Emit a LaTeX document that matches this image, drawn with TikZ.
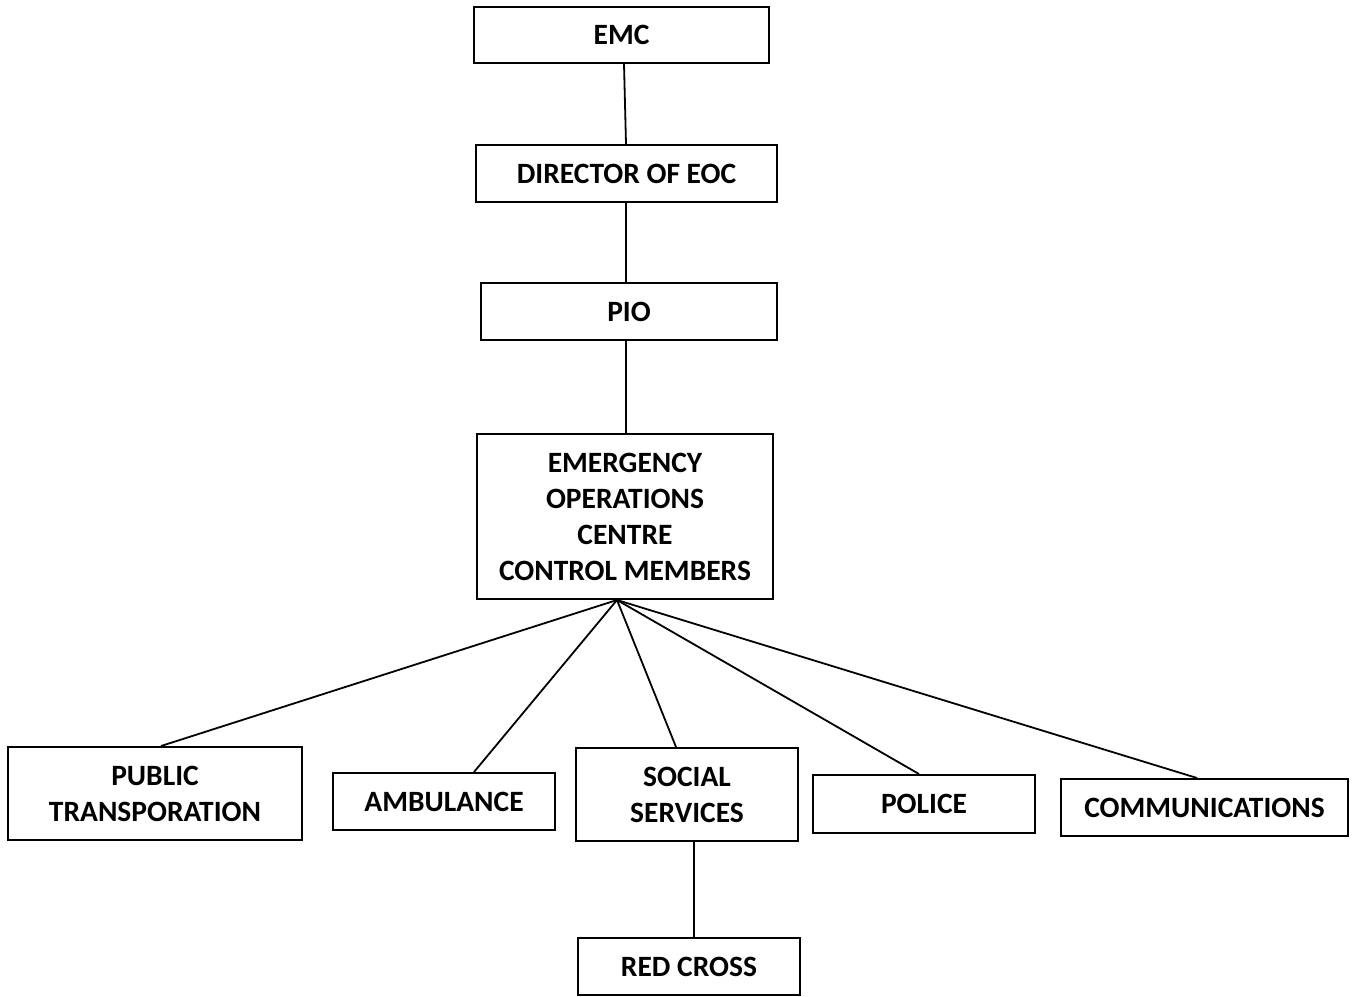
\documentclass[tikz,border=0pt]{standalone}
\usepackage{fontspec}
\setmainfont{Carlito}
\begin{document}
\begin{tikzpicture}[x=1pt,y=-1pt,
  box/.style={draw=black, line width=2pt, inner sep=0pt, align=center,
    font=\fontsize{29.5}{36}\selectfont\bfseries},
  link/.style={draw=black, line width=1.8pt}]
\useasboundingbox (0,0) rectangle (1356,996);

% chain of command
\node[box, minimum width=295pt, minimum height=56pt] (emc) at (621.5,35) {EMC};
\node[box, minimum width=301pt, minimum height=57pt] (dir) at (626.5,173.5) {DIRECTOR OF EOC};
\node[box, minimum width=296pt, minimum height=57pt] (pio) at (629,311.5) {PIO};
\node[box, minimum width=296pt, minimum height=165pt] (eoc) at (625,516.5)
  {EMERGENCY\\OPERATIONS\\CENTRE\\CONTROL MEMBERS};

% member agencies
\node[box, minimum width=294pt, minimum height=93pt] (pt) at (155,793.5) {PUBLIC\\TRANSPORATION};
\node[box, minimum width=222pt, minimum height=57pt] (amb) at (444,801.5) {AMBULANCE};
\node[box, minimum width=222pt, minimum height=93pt] (soc) at (687,794.5) {SOCIAL\\SERVICES};
\node[box, minimum width=222pt, minimum height=58pt] (pol) at (924,804) {POLICE};
\node[box, minimum width=287pt, minimum height=57pt] (com) at (1204.5,807.5) {COMMUNICATIONS};
\node[box, minimum width=222pt, minimum height=57pt] (red) at (689,966.5) {RED CROSS};

% vertical links
\draw[link] ([xshift=2.5pt]emc.south) -- ([xshift=-0.5pt]dir.north);
\draw[link] ([xshift=-0.5pt]dir.south) -- ([xshift=-3pt]pio.north);
\draw[link] ([xshift=-3pt]pio.south) -- ([xshift=1pt]eoc.north);

% fan out to the agencies
\coordinate (apex) at ([xshift=-8pt]eoc.south);
\draw[link] (apex) -- ([xshift=6pt]pt.north);
\draw[link] (apex) -- ([xshift=30pt]amb.north);
\draw[link] (apex) -- ([xshift=-11pt]soc.north);
\draw[link] (apex) -- ([xshift=-5pt]pol.north);
\draw[link] (apex) -- ([xshift=-7.5pt]com.north);

% social services to red cross
\draw[link] ([xshift=7pt]soc.south) -- ([xshift=5pt]red.north);
\end{tikzpicture}
\end{document}
